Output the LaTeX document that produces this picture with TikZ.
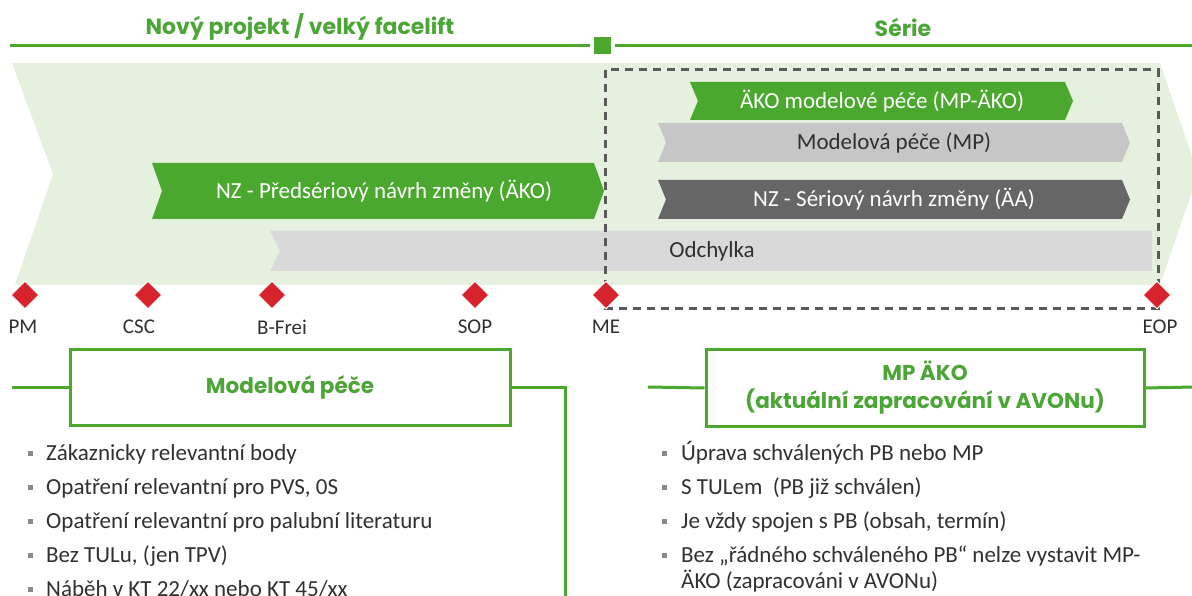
\documentclass[tikz,border=0pt]{standalone}
\usepackage{fontspec}
\setmainfont{Carlito}
\newfontfamily\titlefont{Poppins}
\definecolor{skgreen}{HTML}{4BA82E}
\definecolor{titlegreen}{HTML}{4CA537}
\definecolor{bggreen}{HTML}{E5F0DF}
\definecolor{lgray}{HTML}{C6C6C6}
\definecolor{odgray}{HTML}{D9D9D9}
\definecolor{dgray}{HTML}{666666}
\definecolor{msred}{HTML}{D7242C}
\definecolor{dashgray}{HTML}{595959}
\definecolor{txt}{HTML}{303030}
\definecolor{bulgray}{HTML}{8A8A8A}
\usetikzlibrary{shapes.geometric}
\begin{document}
\begin{tikzpicture}[x=1pt,y=-1pt,
  bartext/.style={font=\fontsize{23}{26}\selectfont, inner sep=0},
  titletext/.style={font=\titlefont\bfseries\fontsize{22}{26}\selectfont, text=titlegreen, inner sep=0},
  milestone/.style={diamond, fill=msred, draw=white, line width=1, minimum width=28, minimum height=28, inner sep=0},
  mslabel/.style={font=\fontsize{21}{24}\selectfont, text=txt, inner sep=0},
  greenline/.style={draw=skgreen, line width=3},
  infobox/.style={draw=skgreen, line width=3, fill=white, align=center, font=\titlefont\bfseries\fontsize{21.5}{28}\selectfont, text=titlegreen, inner sep=0},
  bullettext/.style={font=\fontsize{23}{26}\selectfont, text=txt, anchor=base west, inner sep=0},
  bulletmark/.style={fill=bulgray, minimum size=5, inner sep=0}
]
\useasboundingbox (0,0) rectangle (1192,596);
\clip (0,0) rectangle (1192,596);

% top phase lines
\coordinate (tl1) at (10,46);
\coordinate (tl2) at (590,46);
\coordinate (tr1) at (615,46);
\coordinate (tr2) at (1192,46);
\draw[greenline] (tl1) -- (tl2);
\draw[greenline] (tr1) -- (tr2);
\node[fill=skgreen, minimum size=17, inner sep=0] (sq) at (602.5,46) {};
\node[titletext] (t1) at (300,27) {Nový projekt / velký facelift};
\node[titletext] (t2) at (903,27) {Série};

% background chevron
\fill[bggreen] (12,63) -- (1160,63) -- (1198,174) -- (1160,285) -- (15,285) -- (53,174) -- cycle;

% bars
\fill[skgreen] (152,163) -- (594,163) -- (604,191) -- (594,219) -- (152,219) -- (162,191) -- cycle;
\node[bartext, text=white] (nz1) at (384,191) {NZ - Předsériový návrh změny (ÄKO)};

\fill[odgray] (270,231) -- (1152,231) -- (1152,271) -- (270,271) -- (280,251) -- cycle;
\node[bartext, text=txt] (od) at (712,251) {Odchylka};

\fill[skgreen] (690,82) -- (1065,82) -- (1073,101) -- (1065,120) -- (690,120) -- (698,101) -- cycle;
\node[bartext, text=white] (mpako) at (882,101) {ÄKO modelové péče (MP-ÄKO)};

\fill[lgray] (658,123) -- (1122,123) -- (1130,142.5) -- (1122,162) -- (658,162) -- (666,142.5) -- cycle;
\node[bartext, text=txt] (mp) at (894,142.5) {Modelová péče (MP)};

\fill[dgray] (658,180) -- (1122,180) -- (1130,199.5) -- (1122,219) -- (658,219) -- (666,199.5) -- cycle;
\node[bartext, text=white] (aa) at (894,199.5) {NZ - Sériový návrh změny (ÄA)};

% dashed series frame
\draw[dashgray, line width=3, dash pattern=on 8 off 6] (605,70) rectangle (1158,308);

% milestones
\foreach \n/\x/\lx/\t in {pm/25/23/PM, csc/148/139/CSC, bf/272/282/B-Frei, sop/475/475/SOP, me/606/606/ME, eop/1157/1160/EOP}{
  \node[milestone] (d\n) at (\x,295) {};
  \node[mslabel] (l\n) at (\lx,327) {\t};
}

% bottom boxes
\node[infobox, minimum width=440, minimum height=76] (boxl) at (290,387) {Modelová péče};
\coordinate (bl1) at (12,387);
\coordinate (bl2) at (565,387);
\coordinate (bl3) at (565,600);
\draw[greenline] (bl1) -- (boxl.west);
\draw[greenline] (boxl.east) -- (bl2) -- (bl3);

\node[infobox, minimum width=438, minimum height=77] (boxr) at (925,388) {MP ÄKO\\(aktuální zapracování v AVONu)};
\coordinate (br1) at (648,387);
\coordinate (br2) at (1194,387);
\draw[greenline] (br1) -- (boxr.west);
\draw[greenline] (boxr.east) -- (br2);

% left bullets
\foreach \i/\y/\t in {1/453/{Zákaznicky relevantní body}, 2/487/{Opatření relevantní pro PVS, 0S}, 3/521/{Opatření relevantní pro palubní literaturu}, 4/555/{Bez TULu, (jen TPV)}, 5/589/{Náběh v KT 22/xx nebo KT 45/xx}}{
  \node[bulletmark] (lb\i) at (30,\y) {};
  \node[bullettext] (lt\i) at (46,\y+7.5) {\t};
}

% right bullets
\foreach \i/\y/\t in {1/453/{Úprava schválených PB nebo MP}, 2/487/{S TULem~ (PB již schválen)}, 3/521/{Je vždy spojen s PB (obsah, termín)}, 4/555/{Bez „řádného schváleného PB“ nelze vystavit MP-}}{
  \node[bulletmark] (rb\i) at (664,\y) {};
  \node[bullettext] (rt\i) at (681,\y+7.5) {\t};
}
\node[bullettext] (rt5) at (681,581+7.5) {ÄKO (zapracováni v AVONu)};
\end{tikzpicture}
\end{document}
